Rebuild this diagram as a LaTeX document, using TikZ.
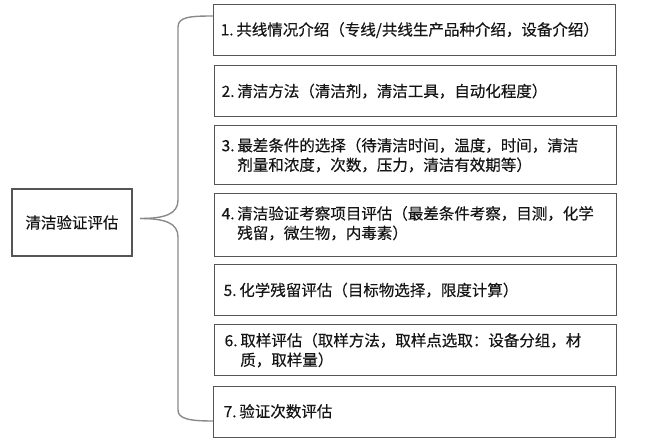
\documentclass[tikz,border=0pt]{standalone}
\usepackage{fontspec}
\setmainfont{Noto Sans CJK SC}[FakeBold=0.35]
\definecolor{boxc}{HTML}{555555}
\definecolor{bracec}{HTML}{8A8A8A}
\definecolor{txt}{HTML}{151515}
\newcommand{\numsp}{\hspace{0.18em}}
\begin{document}
\begin{tikzpicture}[x=1pt,y=-1pt,
  box/.style={draw=boxc, line width=1.3pt, anchor=north west, minimum width=402pt,
    text width=388pt, inner xsep=7pt, inner ysep=0pt, align=left,
    font=\fontsize{15.5}{19.5}\selectfont, text=txt},
  lbox/.style={draw=boxc, line width=1.3pt, minimum width=120pt, minimum height=67pt,
    inner sep=0pt, font=\fontsize{15.5}{19.5}\selectfont, text=txt},
  brace/.style={draw=bracec, line width=1.4pt}]
\useasboundingbox (0,0) rectangle (650,443);

\node[lbox] (main) at (72,222.5) {清洁验证评估};

\node[box, minimum height=51pt] (b1) at (213,4) {\raisebox{-2pt}{1.\numsp 共线情况介绍（专线/共线生产品种介绍，设备介绍）}};
\node[box, minimum height=51pt] (b2) at (214,65) {2.\numsp 清洁方法（清洁剂，清洁工具，自动化程度）};
\node[box, minimum height=59pt] (b3) at (214,125) {3.\numsp 最差条件的选择（待清洁时间，温度，时间，清洁\\\phantom{3.\numsp}剂量和浓度，次数，压力，清洁有效期等）};
\node[box, minimum height=63pt] (b4) at (214,193) {\raisebox{-3pt}{\begin{tabular}{@{}l@{}}4.\numsp 清洁验证考察项目评估（最差条件考察，目测，化学\\\phantom{4.\numsp}残留，微生物，内毒素）\end{tabular}}};
\node[box, minimum height=51pt] (b5) at (214,264) {\hspace*{2pt}5.\numsp 化学残留评估（目标物选择，限度计算）};
\node[box, minimum height=51pt] (b6) at (214,324) {\hspace*{3pt}6.\numsp 取样评估（取样方法，取样点选取：设备分组，材\\\hspace*{3pt}\phantom{6.\numsp}质，取样量）};
\node[box, minimum height=51pt] (b7) at (213,386) {\raisebox{3pt}{\hspace*{3pt}7.\numsp 验证次数评估}};

\coordinate (tip) at (140,218.5);
\draw[brace] ([yshift=-12pt]b1.north west) .. controls (190,16) and (178,17) .. (178,27)
  -- (178,200) .. controls (178,214) and (165,218.5) .. (tip);
\draw[brace] (tip) .. controls (165,218.5) and (178,223) .. (178,237)
  -- (178,410) .. controls (178,419) and (190,421) .. ([yshift=-35pt]b7.north west);
\end{tikzpicture}
\end{document}
